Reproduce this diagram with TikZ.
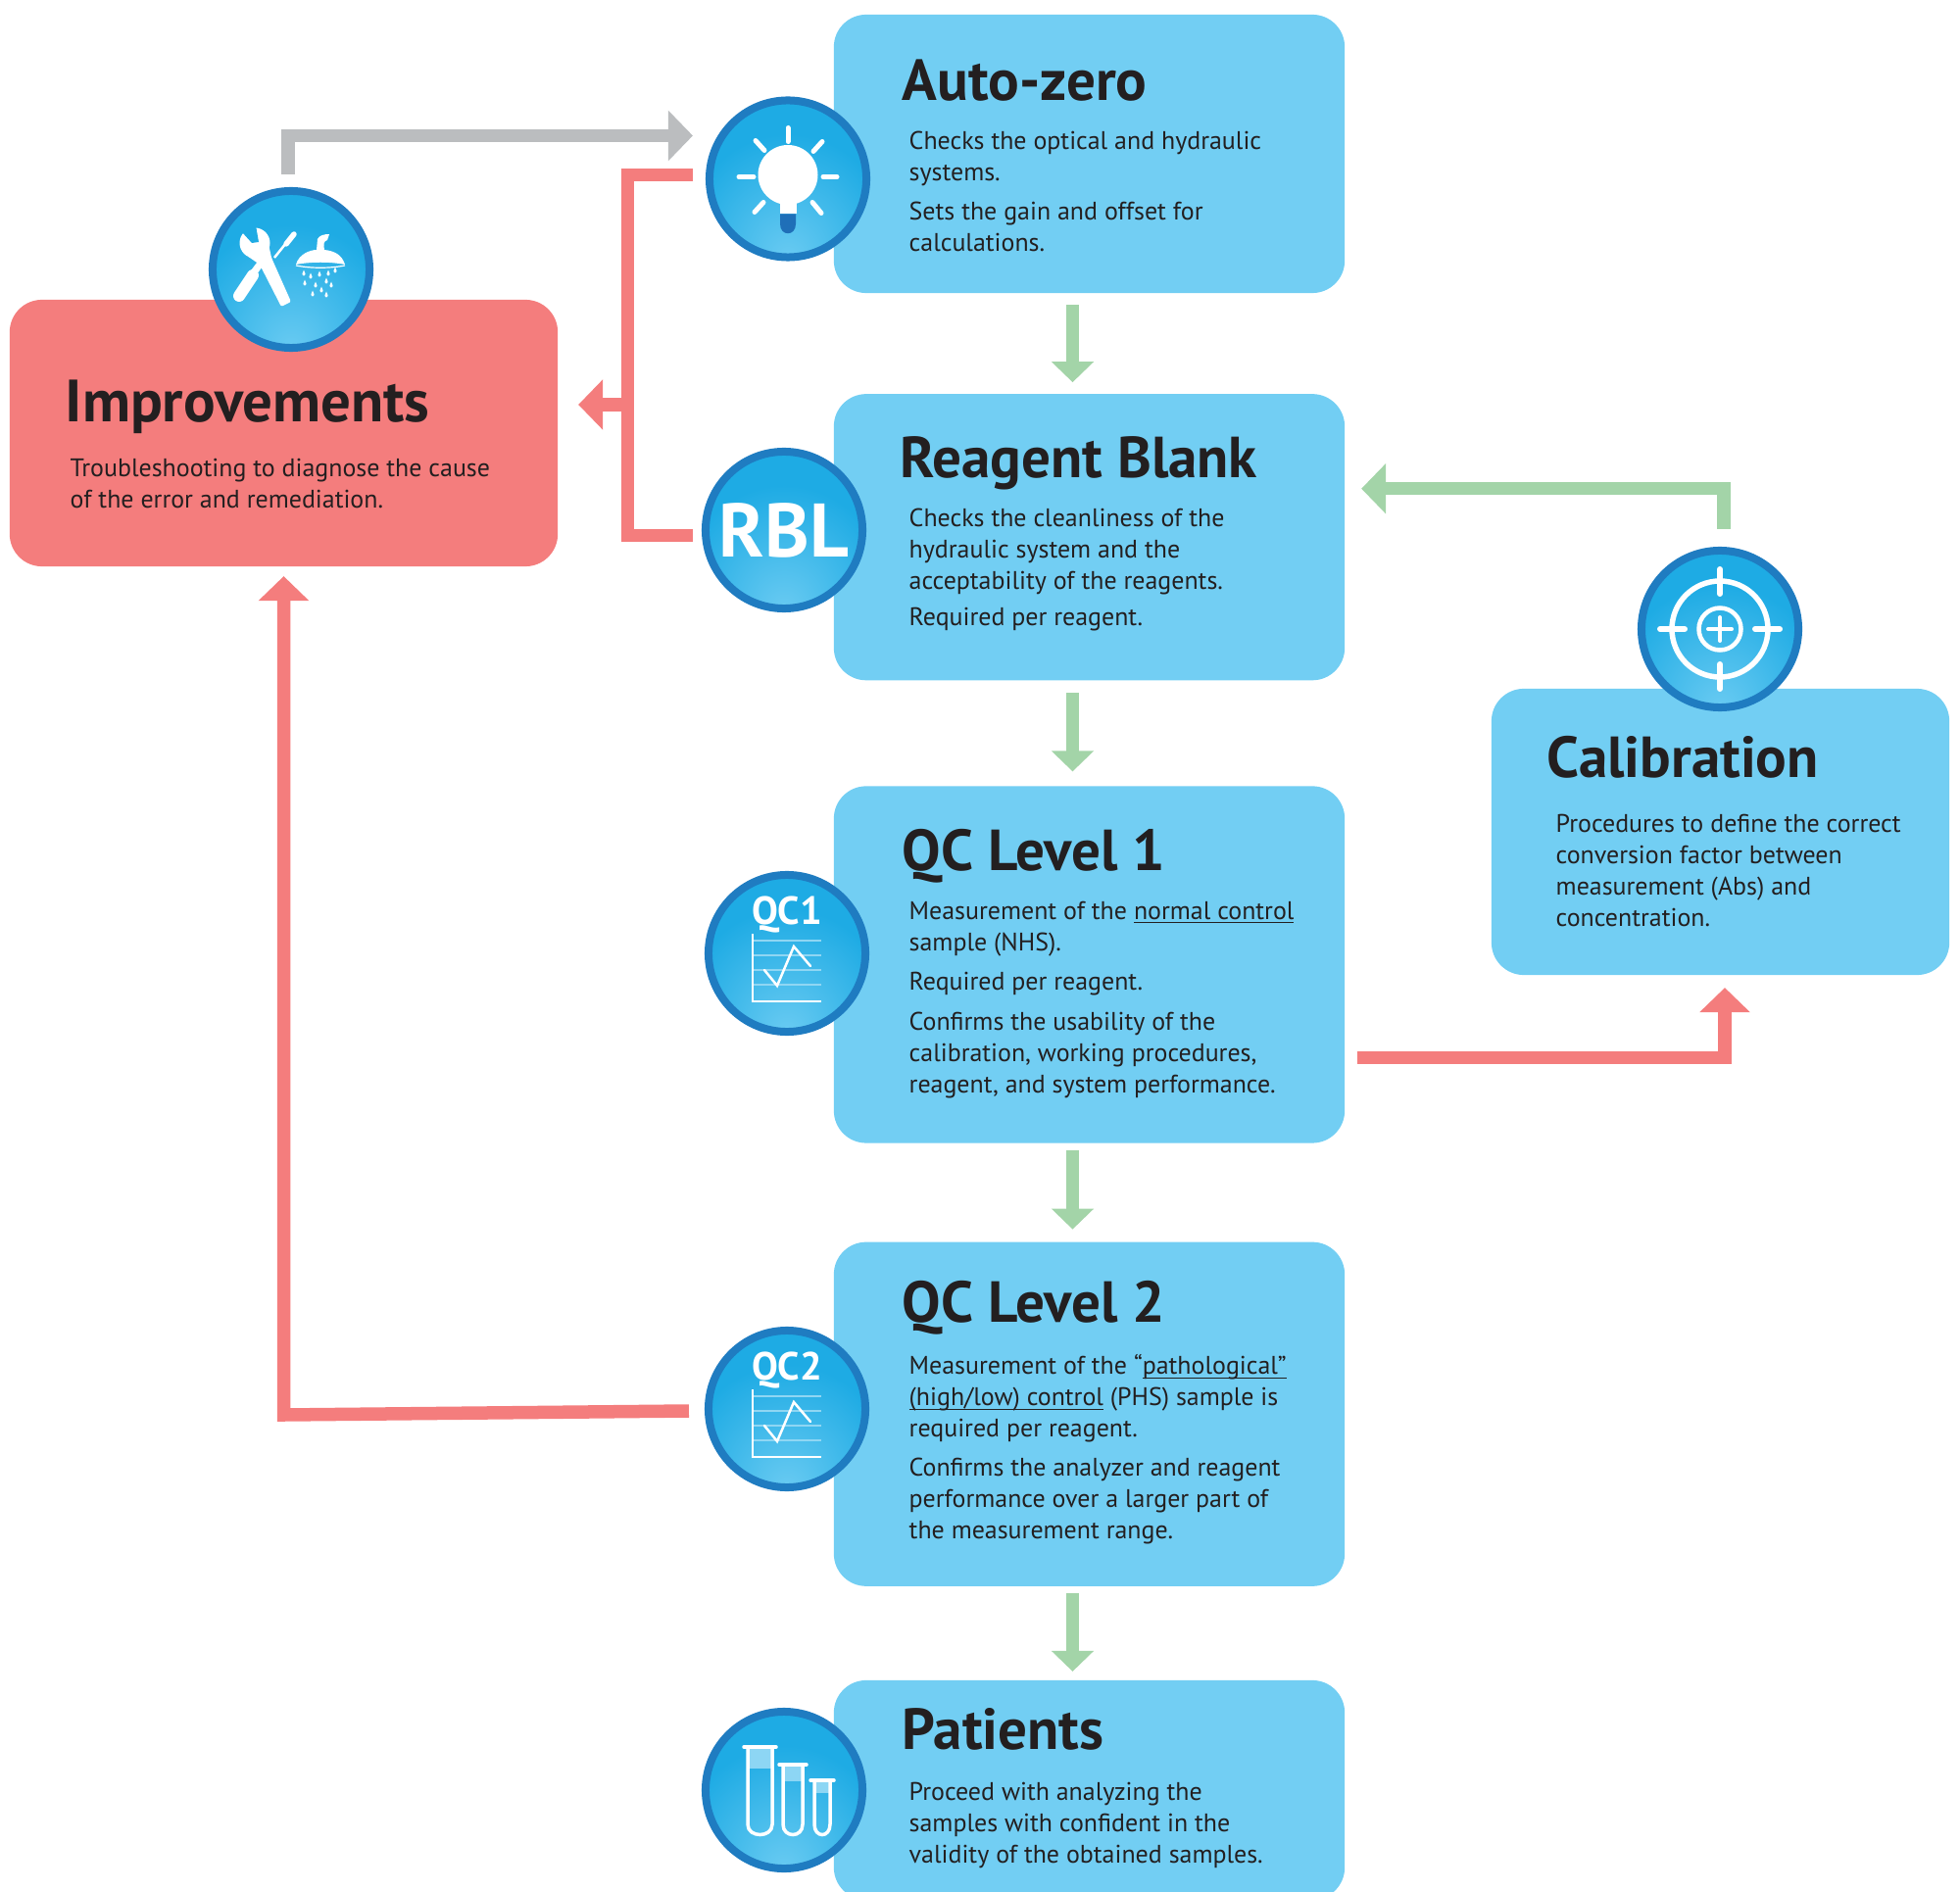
\documentclass[tikz,border=0pt]{standalone}
\usepackage{fontspec}
\setmainfont{PT Sans}
\usetikzlibrary{arrows.meta,positioning}

\definecolor{boxblue}{HTML}{72CEF3}
\definecolor{boxred}{HTML}{F47D7D}
\definecolor{arrowgreen}{HTML}{A3D4A8}
\definecolor{arrowgray}{HTML}{BBBDBF}
\definecolor{inkdark}{HTML}{231F20}
\definecolor{ringblue}{HTML}{1F7CC1}
\definecolor{iconblue}{HTML}{1EABE4}
\definecolor{iconlight}{HTML}{6ACBF2}
\definecolor{tubelight}{HTML}{8DD6F4}
\definecolor{gridlight}{HTML}{8FD6F3}
\definecolor{capblue}{HTML}{1F6FB8}

\pgfdeclareradialshading{iconglow}{\pgfpoint{0bp}{-26bp}}{color(0bp)=(iconlight); color(32bp)=(iconblue); color(100bp)=(iconblue)}
\newsavebox\ulbox
\newcommand{\ulined}[1]{\sbox\ulbox{#1}\usebox\ulbox\llap{\rule[-1.1pt]{\wd\ulbox}{0.35pt}}}

\tikzset{
  infobox/.style={rectangle,rounded corners=0.33cm,fill=boxblue,minimum width=5.21cm,inner sep=0pt,outer sep=0pt},
  iconball/.style={circle,shade,shading=iconglow,draw=ringblue,line width=0.08cm,minimum size=1.6cm,inner sep=0pt},
  headtext/.style={anchor=base west,inner sep=0pt,text=inkdark,font=\fontsize{16.8}{20}\selectfont\bfseries},
  bodytext/.style={anchor=north west,inner sep=0pt,align=left,text=inkdark,font=\fontsize{7.37}{9.1}\selectfont,execute at begin node=\rule{0pt}{7pt}},
  icontext/.style={inner sep=0pt,text=white,font=\fontsize{11.4}{13}\selectfont\bfseries},
  greenarrow/.style={draw=arrowgreen,line width=0.135cm,-{Triangle[length=0.21cm,width=0.42cm]}},
  longgreen/.style={draw=arrowgreen,line width=0.135cm,-{Triangle[length=0.25cm,width=0.5cm]}},
  redarrow/.style={draw=boxred,line width=0.135cm,-{Triangle[length=0.25cm,width=0.5cm]}},
  redline/.style={draw=boxred,line width=0.135cm},
  grayarrow/.style={draw=arrowgray,line width=0.135cm,-{Triangle[length=0.25cm,width=0.5cm]}},
  whiteline/.style={draw=white,line width=0.05cm,line cap=round},
  chart icon/.pic={
    \foreach \gy in {-13,2,17,32}
      \draw[gridlight,line width=0.013cm] (-35,\gy) -- (35,\gy);
    \draw[white,line width=0.025cm] (-35,-20) -- (-35,49) -- (35,49);
    \draw[white,line width=0.025cm,line cap=round] (-23,17) -- (-10,33) -- (7,-7) -- (24,13);
  },
  bulb icon/.pic={
    \foreach \ax/\ay/\bx/\by in {0/-52/0/-38,-50/-2/-35/-2,36/-2/50/-2,-33/-39/-24/-29,35/-38/26/-28,-25/24/-34/34,25/24/34/35}
      \draw[whiteline] (\ax,\ay) -- (\bx,\by);
    \fill[white] (0,-4) circle[radius=30.5];
    \fill[white] (-8.5,20) rectangle (8.5,36);
    \fill[capblue] (-8,36) -- (-8,46) .. controls (-8,59) and (8,59) .. (8,46) -- (8,36) -- cycle;
  },
  target icon/.pic={
    \draw[white,line width=0.055cm] (0,0) circle[radius=49];
    \draw[white,line width=0.045cm] (0,0) circle[radius=21.5];
    \draw[white,line width=0.04cm,line cap=round] (-12,0) -- (12,0) (0,-12) -- (0,12);
    \draw[white,line width=0.06cm,line cap=round] (0,-61) -- (0,-36) (0,36) -- (0,61) (-61,0) -- (-36,0) (36,0) -- (61,0);
  },
  tubes icon/.pic={
    \foreach \lx/\rx/\ty/\ly in {-37/-12/-44/-22,-1/19/-26/-9,31/47/-10/3} {
      \fill[tubelight] (\lx,\ty) rectangle (\rx,\ly);
      \draw[white,line width=0.035cm] (\lx,\ty) -- (\lx,35) .. controls (\lx,49) and (\rx,49) .. (\rx,35) -- (\rx,\ty);
      \draw[white,line width=0.035cm,line cap=round] (\lx-4,\ty) -- (\rx+4,\ty);
    }
  },
  tools icon/.pic={
    % wrench
    \fill[white] (-37,-27) circle[radius=15.5];
    \fill[white,rounded corners=0.02cm] (-45,-14) -- (-32,-5) -- (-10,38) -- (0,33) -- (-20,-12) -- (-23,-26) -- cycle;
    \fill[iconblue] (-50,-38) -- (-40,-27) -- (-33,-28) -- (-36,-45) -- (-48,-48) -- cycle;
    % screwdriver
    \draw[white,line width=0.025cm] (-17,-12) -- (-5,-27);
    \draw[white,line width=0.055cm,line cap=round] (-5,-26) -- (3,-36);
    % bottle
    \draw[white,line width=0.12cm,line cap=round] (-53,27) -- (-39,6);
    \draw[white,line width=0.07cm] (-38,3) -- (-32,-5);
    % shower head
    \fill[white] (5,-5) .. controls (8,-16) and (20,-20) .. (26,-20) -- (27,-31) .. controls (29,-35) and (34,-36) .. (39,-36) -- (37,-30) .. controls (33,-29) and (33,-25) .. (34,-20) .. controls (44,-19) and (52,-15) .. (55,-5) .. controls (40,-8) and (20,-8) .. (5,-5) -- cycle;
    \draw[white,line width=0.012cm] (5,-4) .. controls (20,-1) and (40,-1) .. (55,-4);
    \foreach \dx/\dy in {13/5,20/8,29/6,38/5,45/2,14/15,25/17,36/13,41/17,31/22,22/26,36/27} {
      \fill[white] (\dx,\dy) circle[radius=1.7];
      \fill[white] (\dx-1.6,\dy-0.4) -- (\dx,\dy-4.5) -- (\dx+1.6,\dy-0.4) -- cycle;
    }
  }
}

\begin{document}
\begin{tikzpicture}[x=0.01cm,y=-0.01cm,node distance=1cm]

  \clip[use as bounding box] (0,0) rectangle (2000,1931);

  % step boxes
  \node[infobox,minimum height=2.84cm]                      (autozero) at (1111.5,157) {};
  \node[infobox,minimum height=2.92cm,below=1.03cm of autozero] (reagent)  {};
  \node[infobox,minimum height=3.64cm,below=1.08cm of reagent]  (qcone)    {};
  \node[infobox,minimum height=3.51cm,below=1.01cm of qcone]    (qctwo)    {};
  \node[infobox,minimum height=2.24cm,below=0.96cm of qctwo]    (patients) {};
  \node[infobox,fill=boxred,minimum width=5.59cm,minimum height=2.72cm] (improve) at (289.5,442) {};
  \node[infobox,minimum width=4.67cm,minimum height=2.92cm] (calib) at (1755.5,849) {};

  % icons
  \node[iconball] (zeroicon)    at (804,182.5) {};
  \node[iconball] (toolsicon)   at (297,275)   {};
  \node[iconball] (rblicon)     at (800,541)   {};
  \node[iconball] (qconeicon)   at (803,973)   {};
  \node[iconball] (qctwoicon)   at (803,1438)  {};
  \node[iconball] (tubesicon)   at (800,1827)  {};
  \node[iconball] (targeticon)  at (1755,642)  {};

  \pic at (zeroicon)   {bulb icon};
  \pic at (toolsicon)  {tools icon};
  \pic at (qconeicon)  {chart icon};
  \pic at (qctwoicon)  {chart icon};
  \pic at (tubesicon)  {tubes icon};
  \pic at (targeticon) {target icon};

  \node[icontext,font=\fontsize{22}{26}\selectfont\bfseries] (rbltext) at (rblicon) {RBL};
  \node[icontext] (qconetext) [above=0.2cm of qconeicon.center] {QC1};
  \node[icontext] (qctwotext) [above=0.2cm of qctwoicon.center] {QC2};

  % connectors
  \foreach \from/\to/\gapa/\gapb in {autozero/reagent/12/12,reagent/qcone/13/15,qcone/qctwo/7/13,qctwo/patients/7/9}
    \draw[greenarrow] ([shift={(-17,\gapa)}]\from.south) -- ([shift={(-17,-\gapb)}]\to.north);

  \coordinate (redbus) at (640.5,413);
  \coordinate (qcbend) at (289.5,1444);

  \draw[grayarrow] ([shift={(-3,-13)}]toolsicon.north) |- ([shift={(-13,-44)}]zeroicon.west);
  \draw[redline] ([shift={(-13,-4)}]zeroicon.west) -| (redbus) |- ([shift={(-9,5.7)}]rblicon.west);
  \draw[redarrow] (redbus) -- ([shift={(21,-29)}]improve.east);
  \draw[redarrow] ([shift={(-16,2)}]qctwoicon.west) -- (qcbend) -- ([yshift=-0.1cm]improve.south);
  \draw[redarrow] ([shift={(13,95)}]qcone.east) -| ([shift={(4.5,13)}]calib.south);
  \draw[longgreen] ([shift={(4,-18)}]targeticon.north) |- ([shift={(17,-49.5)}]reagent.east);

  % texts
  \node[headtext] (zerohead) at (920,103) {Auto-zero};
  \node[bodytext] (zerobody) at (927,133.5) {Checks the optical and hydraulic\\systems.\\[2.2pt]Sets the gain and offset for\\calculations.};

  \node[headtext] (rblhead) at (918,488) {Reagent Blank};
  \node[bodytext] (rblbody) at (927,518.5) {Checks the cleanliness of the\\hydraulic system and the\\acceptability of the reagents.\\[1.3pt]Required per reagent.};

  \node[headtext] (qconehead) at (920,888) {QC Level 1};
  \node[bodytext] (qconebody) at (927,919.5) {Measurement of the \ulined{normal control}\\sample (NHS).\\[2.4pt]Required per reagent.\\[2.4pt]Confirms the usability of the\\calibration, working procedures,\\reagent, and system performance.};

  \node[headtext] (qctwohead) at (920,1349) {QC Level 2};
  \node[bodytext] (qctwobody) at (927,1382) {Measurement of the “\ulined{pathological”}\\\ulined{(high/low) control} (PHS) sample is\\required per reagent.\\[2.2pt]Confirms the analyzer and reagent\\performance over a larger part of\\the measurement range.};

  \node[headtext] (patienthead) at (920,1785) {Patients};
  \node[bodytext] (patientbody) at (927,1818) {Proceed with analyzing the\\samples with confident in the\\validity of the obtained samples.};

  \node[headtext,font=\fontsize{17.3}{20}\selectfont\bfseries] (improvehead) at (66,431) {Improvements};
  \node[bodytext] (improvebody) at (71,467) {Troubleshooting to diagnose the cause\\of the error and remediation.};

  \node[headtext] (calibhead) at (1578,793) {Calibration};
  \node[bodytext] (calibbody) at (1587,830) {Procedures to define the correct\\conversion factor between\\measurement (Abs) and\\concentration.};

\end{tikzpicture}
\end{document}
